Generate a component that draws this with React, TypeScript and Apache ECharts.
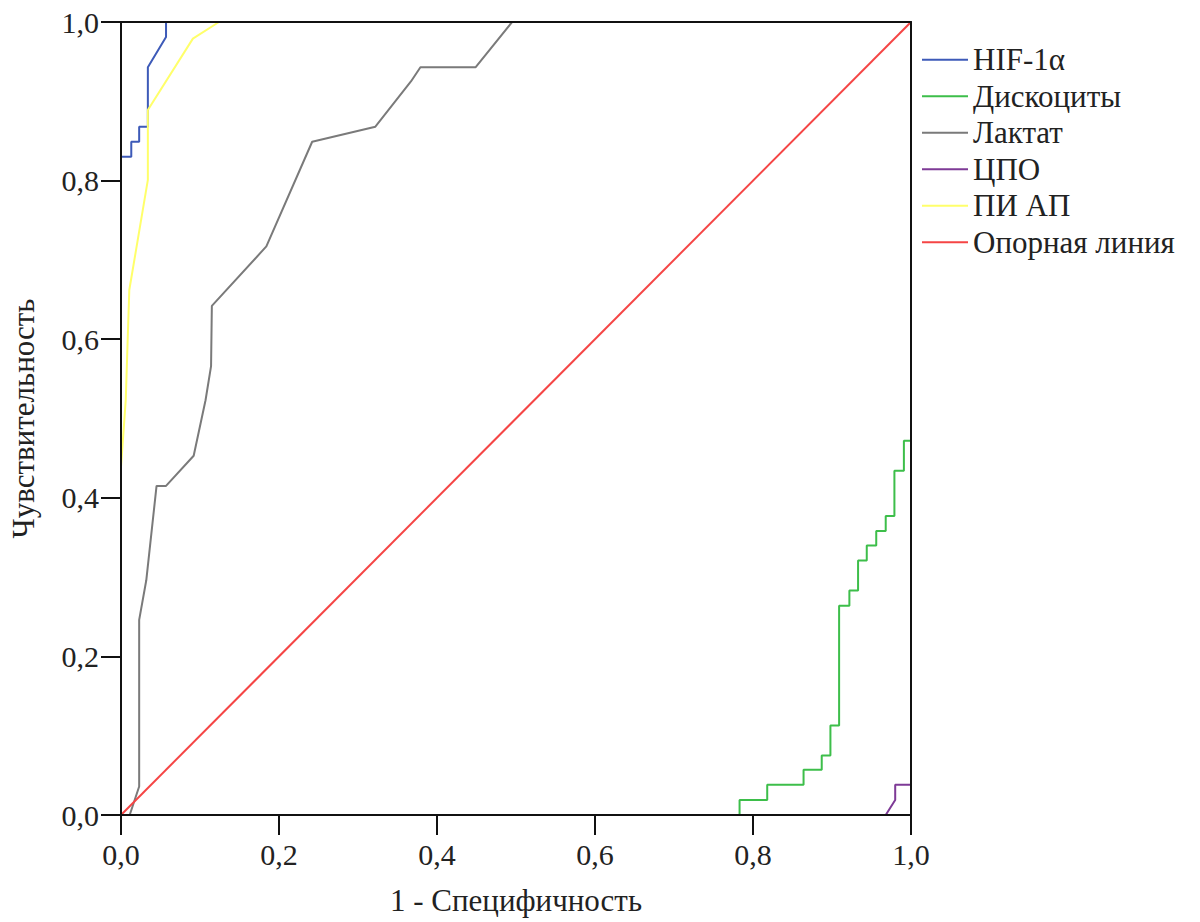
import React, { useEffect, useRef } from "react";
import * as echarts from "echarts";

const seriesNames = ["HIF-1α", "Дискоциты", "Лактат", "ЦПО", "ПИ АП", "Опорная линия"];
const seriesColors = ["#3D5AB8", "#3DBE4A", "#7A7A7A", "#7E3A96", "#FFFF6A", "#F54545"];

const hifData = [[0, 0], [0, 0.83], [0.013, 0.83], [0.013, 0.849], [0.023, 0.849], [0.023, 0.868], [0.034, 0.868], [0.034, 0.943], [0.057, 0.981], [0.057, 1], [1, 1]];
const discoData = [[0, 0], [0.783, 0], [0.783, 0.019], [0.818, 0.019], [0.818, 0.038], [0.864, 0.038], [0.864, 0.057], [0.887, 0.057], [0.887, 0.075], [0.898, 0.075], [0.898, 0.113], [0.909, 0.113], [0.909, 0.264], [0.922, 0.264], [0.922, 0.283], [0.933, 0.283], [0.933, 0.321], [0.944, 0.321], [0.944, 0.34], [0.956, 0.34], [0.956, 0.358], [0.968, 0.358], [0.968, 0.377], [0.979, 0.377], [0.979, 0.434], [0.991, 0.434], [0.991, 0.472], [1, 0.472], [1, 1]];
const lactateData = [[0, 0], [0.011, 0], [0.023, 0.036], [0.023, 0.246], [0.032, 0.296], [0.045, 0.415], [0.057, 0.415], [0.092, 0.453], [0.107, 0.523], [0.114, 0.566], [0.115, 0.642], [0.184, 0.717], [0.242, 0.849], [0.322, 0.868], [0.367, 0.925], [0.379, 0.943], [0.449, 0.943], [0.495, 1], [1, 1]];
const cpoData = [[0, 0], [0.968, 0], [0.98, 0.019], [0.98, 0.038], [1, 0.038], [1, 1]];
const piapData = [[0, 0], [0, 0.439], [0.006, 0.523], [0.0105, 0.662], [0.034, 0.801], [0.034, 0.889], [0.091, 0.979], [0.124, 1], [1, 1]];
const refData = [[0, 0], [1, 1]];

const allData = [hifData, discoData, lactateData, cpoData, piapData, refData];

const xAxisTitle = "1 - Специфичность";
const yAxisTitle = "Чувствительность";

const FONT = "'Liberation Serif', 'DejaVu Serif', serif";

export default function App() {
  const ref = useRef<HTMLDivElement>(null);
  useEffect(() => {
    if (!ref.current) return;
    const chart = echarts.init(ref.current, undefined, { renderer: "svg" });
    const fmt = (v: number) => v.toFixed(1).replace(".", ",");
    const lineStyle = { color: "#111", width: 2 };
    const frameAxis = {
      type: "value",
      min: 0,
      max: 1,
      z: 10,
      axisLine: { show: true, onZero: false, lineStyle },
      axisTick: { show: false },
      axisLabel: { show: false },
      splitLine: { show: false },
    };
    chart.setOption({
      animation: false,
      backgroundColor: "#fff",
      textStyle: { fontFamily: FONT },
      grid: {
        left: 120,
        right: 289,
        top: 22,
        bottom: 107,
        show: false,
      },
      legend: {
        orient: "vertical",
        left: 917,
        top: 39,
        icon: "rect",
        itemWidth: 46,
        itemHeight: 2,
        itemGap: 5,
        data: seriesNames,
        textStyle: { fontFamily: FONT, fontSize: 31, color: "#222", lineHeight: 31.5 },
      },
      xAxis: [
        {
          type: "value",
          min: 0,
          max: 1,
          interval: 0.2,
          position: "bottom",
          z: 10,
          name: xAxisTitle,
          nameLocation: "middle",
          nameGap: 70,
          nameTextStyle: { fontFamily: FONT, fontSize: 31, color: "#222" },
          axisLine: { show: true, onZero: false, lineStyle },
          axisTick: { show: true, inside: false, length: 20, lineStyle },
          axisLabel: { margin: 24, fontFamily: FONT, fontSize: 30, color: "#222", formatter: fmt },
          splitLine: { show: false },
        },
        { ...frameAxis, position: "top" },
      ],
      yAxis: [
        {
          type: "value",
          min: 0,
          max: 1,
          interval: 0.2,
          position: "left",
          z: 10,
          name: yAxisTitle,
          nameLocation: "middle",
          nameGap: 82,
          nameRotate: 90,
          nameTextStyle: { fontFamily: FONT, fontSize: 31, color: "#222" },
          axisLine: { show: true, onZero: false, lineStyle },
          axisTick: { show: true, inside: false, length: 20, lineStyle },
          axisLabel: { margin: 22, fontFamily: FONT, fontSize: 30, color: "#222", formatter: fmt },
          splitLine: { show: false },
        },
        { ...frameAxis, position: "right" },
      ],
      series: seriesNames.map((name, i) => ({
        name,
        type: "line",
        xAxisIndex: 0,
        yAxisIndex: 0,
        data: allData[i],
        showSymbol: false,
        symbol: "none",
        color: seriesColors[i],
        lineStyle: { color: seriesColors[i], width: 2 },
        z: 2 + i,
      })),
    });
    return () => chart.dispose();
  }, []);
  return <div ref={ref} style={{ width: 1200, height: 922, position: "absolute", left: 0, top: 0 }} />;
}
